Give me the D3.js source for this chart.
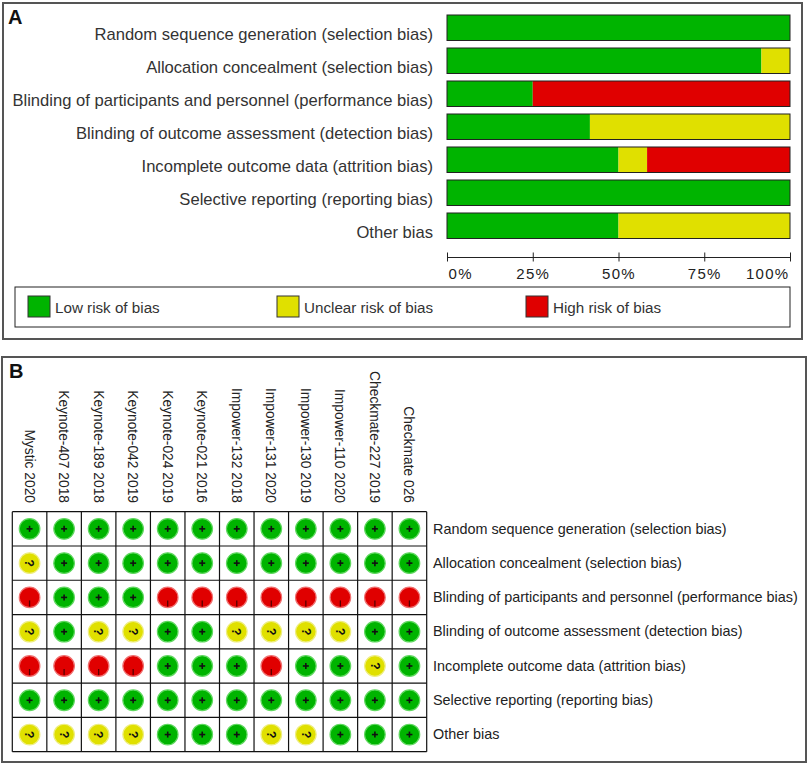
<!DOCTYPE html>
<html>
<head>
<meta charset="utf-8">
<script src="https://cdn.jsdelivr.net/npm/d3@7/dist/d3.min.js"></script>
<style>
  html, body { margin: 0; padding: 0; background: #fff; }
  svg { display: block; }
</style>
</head>
<body>
<svg id="chart" width="809" height="765"></svg>
<script>
// ---------------- DATA ----------------
const domains = [
  "Random sequence generation (selection bias)",
  "Allocation concealment (selection bias)",
  "Blinding of participants and personnel (performance bias)",
  "Blinding of outcome assessment (detection bias)",
  "Incomplete outcome data (attrition bias)",
  "Selective reporting (reporting bias)",
  "Other bias"
];
const studies = [
  "Mystic 2020", "Keynote-407 2018", "Keynote-189 2018", "Keynote-042 2019",
  "Keynote-024 2019", "Keynote-021 2016", "Impower-132 2018", "Impower-131 2020",
  "Impower-130 2019", "Impower-110 2020", "Checkmate-227 2019", "Checkmate 026"
];
// judgements per domain, one per study: + low, ? unclear, - high
const randomSequence   = ["+","+","+","+","+","+","+","+","+","+","+","+"];
const allocation       = ["?","+","+","+","+","+","+","+","+","+","+","+"];
const blindingPart     = ["-","+","+","+","-","-","-","-","-","-","-","-"];
const blindingOutcome  = ["?","+","?","?","+","+","?","?","?","?","+","+"];
const incompleteData   = ["-","-","-","-","+","+","+","-","+","+","?","+"];
const selectiveReport  = ["+","+","+","+","+","+","+","+","+","+","+","+"];
const otherBias        = ["?","?","?","?","+","+","+","?","?","+","+","+"];
const judgements = [randomSequence, allocation, blindingPart, blindingOutcome,
                    incompleteData, selectiveReport, otherBias];

const levels = ["+", "?", "-"];
const legendLabels = ["Low risk of bias", "Unclear risk of bias", "High risk of bias"];
const tickValues = [0, 0.25, 0.5, 0.75, 1];
const tickLabels = ["0%", "25%", "50%", "75%", "100%"];

// ---------------- STYLE ----------------
const colors = { "+": "#00b400", "?": "#e0e000", "-": "#e00000" };
const rimColors = { "+": "#60d860", "?": "#eeee80", "-": "#f07070" };
const font = "'Liberation Sans', Arial, sans-serif";

const svg = d3.select("#chart");

// ---------------- PANEL A ----------------
svg.append("rect").attr("x", 3).attr("y", 3).attr("width", 799).attr("height", 336)
  .attr("fill", "#fff").attr("stroke", "#555").attr("stroke-width", 2);
svg.append("text").attr("x", 8).attr("y", 24).text("A")
  .attr("font-family", font).attr("font-weight", "bold").attr("font-size", 20).attr("fill", "#111");

const x = d3.scaleLinear().domain([0, 1]).range([447, 790]);
const y = d3.scaleBand().domain(domains).range([11.25, 242.25]).paddingInner(0.227).paddingOuter(0.1135);

// stacked summary from table
const summary = domains.map((d, i) => {
  const arr = judgements[i];
  const n = arr.length;
  let acc = 0;
  return levels.map(l => {
    const v = arr.filter(a => a === l).length / n;
    const seg = { domain: d, level: l, x0: acc, x1: acc + v };
    acc += v;
    return seg;
  });
});

const gA = svg.append("g");
gA.selectAll("g.bar").data(summary).join("g").attr("class", "bar")
  .each(function(segs) {
    const g = d3.select(this);
    g.selectAll("rect.seg").data(segs.filter(s => s.x1 > s.x0)).join("rect")
      .attr("class", "seg")
      .attr("x", s => x(s.x0)).attr("width", s => x(s.x1) - x(s.x0))
      .attr("y", s => y(s.domain)).attr("height", y.bandwidth())
      .attr("fill", s => colors[s.level]);
    g.append("rect")
      .attr("x", x(0)).attr("width", x(1) - x(0))
      .attr("y", y(segs[0].domain)).attr("height", y.bandwidth())
      .attr("fill", "none").attr("stroke", "#222").attr("stroke-width", 1);
  });

gA.selectAll("text.cat").data(domains).join("text").attr("class", "cat")
  .attr("x", 433).attr("y", d => y(d) + y.bandwidth() / 2 + 12)
  .attr("text-anchor", "end")
  .attr("font-family", font).attr("font-size", 16.6).attr("fill", "#333")
  .text(d => d);

// axis
const axis = d3.axisBottom(x).tickValues(tickValues).tickSizeInner(9).tickSizeOuter(0)
  .tickFormat((d, i) => tickLabels[i]);
const gAxis = svg.append("g").attr("transform", "translate(0,252.5)").call(axis);
gAxis.select(".domain").attr("transform", "translate(0,4.5)").attr("stroke", "#222");
gAxis.selectAll(".tick line").attr("stroke", "#222");
gAxis.selectAll(".tick text")
  .attr("font-family", font).attr("font-size", 15).attr("fill", "#222")
  .attr("letter-spacing", 1.3)
  .attr("y", 26).attr("dy", 0)
  .attr("text-anchor", (d, i) => i === 0 ? "start" : (i === tickValues.length - 1 ? "end" : "middle"))
  .attr("dx", (d, i) => i === 0 ? 1 : (i === tickValues.length - 1 ? -1 : 0));

// legend
svg.append("rect").attr("x", 15).attr("y", 287).attr("width", 775).attr("height", 40)
  .attr("fill", "#fff").attr("stroke", "#222").attr("stroke-width", 1);
const legX = [28, 277, 526];
const leg = svg.selectAll("g.leg").data(levels).join("g").attr("class", "leg")
  .attr("transform", (d, i) => `translate(${legX[i]},296)`);
leg.append("rect").attr("width", 22).attr("height", 21)
  .attr("fill", d => colors[d]).attr("stroke", "#333").attr("stroke-width", 1);
leg.append("text").attr("x", 27).attr("y", 17)
  .attr("font-family", font).attr("font-size", 15.2).attr("fill", "#333")
  .text((d, i) => legendLabels[i]);

// ---------------- PANEL B ----------------
svg.append("rect").attr("x", 2).attr("y", 357).attr("width", 804).attr("height", 405)
  .attr("fill", "#fff").attr("stroke", "#555").attr("stroke-width", 2);
svg.append("text").attr("x", 9).attr("y", 378).text("B")
  .attr("font-family", font).attr("font-weight", "bold").attr("font-size", 20).attr("fill", "#111");

const cx = d3.scaleBand().domain(studies).range([12.3, 426.7]);
const cy = d3.scaleBand().domain(domains).range([511.7, 751.7]);

// grid
const gB = svg.append("g");
gB.selectAll("line.v").data(d3.range(studies.length + 1)).join("line").attr("class", "v")
  .attr("x1", i => cx.range()[0] + i * cx.step()).attr("x2", i => cx.range()[0] + i * cx.step())
  .attr("y1", cy.range()[0]).attr("y2", cy.range()[1])
  .attr("stroke", "#111").attr("stroke-width", 1.2);
gB.selectAll("line.h").data(d3.range(domains.length + 1)).join("line").attr("class", "h")
  .attr("y1", i => cy.range()[0] + i * cy.step()).attr("y2", i => cy.range()[0] + i * cy.step())
  .attr("x1", cx.range()[0]).attr("x2", cx.range()[1])
  .attr("stroke", "#111").attr("stroke-width", 1.2);

// cells
const cells = [];
domains.forEach((d, i) => studies.forEach((s, j) => cells.push({ domain: d, study: s, v: judgements[i][j] })));

const cell = gB.selectAll("g.cell").data(cells).join("g").attr("class", "cell")
  .attr("transform", c => `translate(${cx(c.study) + cx.bandwidth() / 2},${cy(c.domain) + cy.bandwidth() / 2})`);
cell.append("circle").attr("r", 10.3)
  .attr("fill", c => colors[c.v]).attr("stroke", c => rimColors[c.v]).attr("stroke-width", 1.2);
// plus sign
const plus = cell.filter(c => c.v === "+");
plus.append("line").attr("x1", -3).attr("x2", 3).attr("y1", 0).attr("y2", 0)
  .attr("stroke", "#111").attr("stroke-width", 1.6);
plus.append("line").attr("x1", 0).attr("x2", 0).attr("y1", -3).attr("y2", 3)
  .attr("stroke", "#111").attr("stroke-width", 1.6);
// question mark, rotated with the panel
cell.filter(c => c.v === "?").append("text")
  .attr("transform", "rotate(90)")
  .attr("text-anchor", "middle").attr("dy", "0.36em")
  .attr("font-family", font).attr("font-weight", "bold").attr("font-size", 12).attr("fill", "#111")
  .text("?");
// minus sign, rotated (vertical stroke, low in the circle)
cell.filter(c => c.v === "-").append("line")
  .attr("x1", 0).attr("x2", 0).attr("y1", 3).attr("y2", 9)
  .attr("stroke", "#5a0000").attr("stroke-width", 1.3);

// column labels (rotated, reading top to bottom)
gB.selectAll("text.study").data(studies).join("text").attr("class", "study")
  .attr("transform", s => `translate(${cx(s) + cx.bandwidth() / 2},503) rotate(90)`)
  .attr("text-anchor", "end").attr("dy", "0.36em")
  .attr("font-family", font).attr("font-size", 13.8).attr("fill", "#222")
  .text(s => s);

// row labels
gB.selectAll("text.dom").data(domains).join("text").attr("class", "dom")
  .attr("x", 433).attr("y", d => cy(d) + cy.bandwidth() / 2)
  .attr("dy", "0.33em")
  .attr("font-family", font).attr("font-size", 14.4).attr("fill", "#222")
  .text(d => d);
</script>
</body>
</html>
